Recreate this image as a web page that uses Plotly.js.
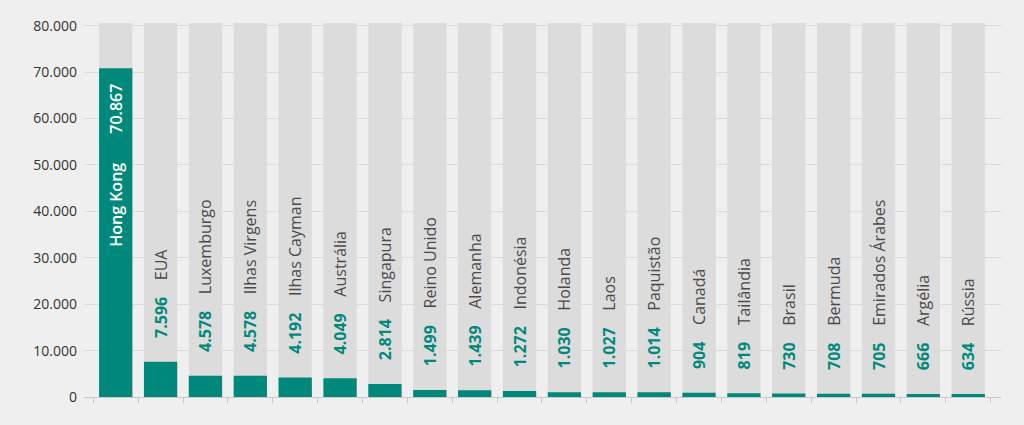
<!DOCTYPE html>
<html>
<head>
<meta charset="utf-8">
<script src="https://cdn.plot.ly/plotly-3.0.1.min.js"></script>
<style>html,body{margin:0;padding:0;background:#efefef;}#chart{width:1024px;height:425px;}</style>
</head>
<body>
<div id="chart"></div>
<script>
const countries = ["Hong Kong","EUA","Luxemburgo","Ilhas Virgens","Ilhas Cayman","Austrália","Singapura","Reino Unido","Alemanha","Indonésia","Holanda","Laos","Paquistão","Canadá","Tailândia","Brasil","Bermuda","Emirados Árabes","Argélia","Rússia"];
const values = [70867,7596,4578,4578,4192,4049,2814,1499,1439,1272,1030,1027,1014,904,819,730,708,705,666,634];
const backgroundMax = 80600;
const yTicks = [0,10000,20000,30000,40000,50000,60000,70000,80000];

const teal = "#00897b";
const pad = "&nbsp;&nbsp;&nbsp;&nbsp;&nbsp;";
const gap = "&nbsp;&nbsp;&nbsp;&nbsp;";
const hkGap = "&nbsp;&nbsp;&nbsp;&nbsp;&nbsp;&nbsp;&nbsp;";
const hkPad = "&nbsp;&nbsp;&nbsp;";
const templates = countries.map((c, i) => i === 0
  ? "<span style='font-weight:600'>%{x}" + hkGap + "%{y:,}</span>" + hkPad
  : pad + "<span style='color:" + teal + "'><b>%{y:,}</b></span>" + gap + "<span style='color:#4a4a4a'>%{x}</span>");
const positions = countries.map((c, i) => i === 0 ? "inside" : "outside");

const bgTrace = {
  type: "bar", x: countries, y: countries.map(() => backgroundMax),
  marker: {color: "#dcdcdc"}, hoverinfo: "skip", showlegend: false
};
const mainTrace = {
  type: "bar", x: countries, y: values,
  marker: {color: teal},
  texttemplate: templates, textposition: positions, textangle: -90,
  insidetextanchor: "end", constraintext: "none", cliponaxis: false,
  insidetextfont: {color: "#ffffff", size: 16, family: "Open Sans"},
  outsidetextfont: {color: "#4a4a4a", size: 16, family: "Open Sans"},
  showlegend: false
};

const layout = {
  width: 1024, height: 425,
  paper_bgcolor: "#efefef", plot_bgcolor: "#efefef",
  margin: {l: 84, r: 23, t: 23, b: 28},
  barmode: "overlay", bargap: 0.258,
  separators: ",.",
  font: {family: "Open Sans", color: "#333"},
  xaxis: {
    type: "category", range: [-0.707, 19.73],
    showticklabels: false, ticks: "outside", tickson: "boundaries",
    ticklen: 5, tickcolor: "#c8c8c8", showgrid: false,
    showline: true, linecolor: "#c8c8c8", linewidth: 1, zeroline: false
  },
  yaxis: {
    range: [0, backgroundMax], tickvals: yTicks, tickformat: ",",
    showgrid: true, gridcolor: "#dadada", gridwidth: 1, zeroline: false,
    ticks: "", ticklabelstandoff: 6,
    tickfont: {size: 14, color: "#333", family: "Open Sans"}
  }
};

Plotly.newPlot("chart", [bgTrace, mainTrace], layout, {displayModeBar: false, staticPlot: true});
</script>
</body>
</html>
